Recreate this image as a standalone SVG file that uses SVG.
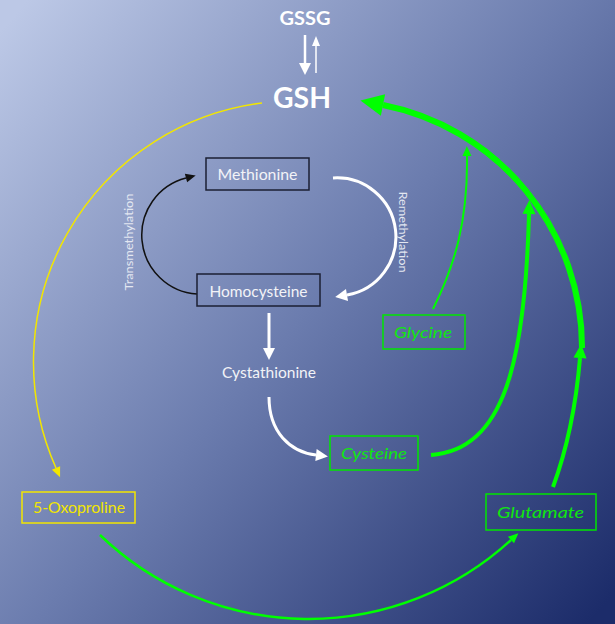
<svg xmlns="http://www.w3.org/2000/svg" width="615" height="624" viewBox="0 0 615 624">
  <defs>
    <linearGradient id="bg" x1="0" y1="0.05" x2="1" y2="0.95">
      <stop offset="0" stop-color="#bcc8e6"/>
      <stop offset="0.5" stop-color="#6b7cae"/>
      <stop offset="1" stop-color="#1c2c6a"/>
    </linearGradient>
    <marker id="hWhite" markerUnits="userSpaceOnUse" markerWidth="14" markerHeight="14" refX="0" refY="6" orient="auto" overflow="visible">
      <path d="M0,0 L12,6 L0,12 Z" fill="#ffffff"/>
    </marker>
    <marker id="hWhiteThin" markerUnits="userSpaceOnUse" markerWidth="12" markerHeight="10" refX="0" refY="4" orient="auto" overflow="visible">
      <path d="M0,0 L10,4 L0,8 Z" fill="#ffffff"/>
    </marker>
    <marker id="hBlack" markerUnits="userSpaceOnUse" markerWidth="12" markerHeight="10" refX="0" refY="4.5" orient="auto" overflow="visible">
      <path d="M0,0 L10,4.5 L0,9 Z" fill="#111111"/>
    </marker>
    <marker id="hYellow" markerUnits="userSpaceOnUse" markerWidth="12" markerHeight="10" refX="0" refY="4.5" orient="auto" overflow="visible">
      <path d="M0,0 L10,4.5 L0,9 Z" fill="#f2e600"/>
    </marker>
    <marker id="hGreenS" markerUnits="userSpaceOnUse" markerWidth="12" markerHeight="10" refX="0" refY="4.5" orient="auto" overflow="visible">
      <path d="M0,0 L10,4.5 L0,9 Z" fill="#00ff00"/>
    </marker>
    <marker id="hGreenM" markerUnits="userSpaceOnUse" markerWidth="16" markerHeight="14" refX="0" refY="6.5" orient="auto" overflow="visible">
      <path d="M0,0 L14,6.5 L0,13 Z" fill="#00ff00"/>
    </marker>
    <marker id="hGreenL" markerUnits="userSpaceOnUse" markerWidth="24" markerHeight="24" refX="0" refY="11" orient="auto" overflow="visible">
      <path d="M0,0 L23,11 L0,22 Z" fill="#00ff00"/>
    </marker>
  </defs>
  <style>
    text { font-family: Lato, "Open Sans", "Liberation Sans", sans-serif; }
    .lbl { fill: #f2f3f7; font-size: 16px; text-anchor: middle; }
    .grn { fill: #10e610; font-size: 16px; font-style: italic; text-anchor: middle; }
    .ylw { fill: #f2e600; font-size: 15px; text-anchor: middle; }
    .rot { fill: #e3e7f1; font-size: 12px; text-anchor: middle; }
    .big { fill: #ffffff; font-weight: bold; text-anchor: middle; }
    .boxD { fill: none; stroke: #1b1f33; stroke-width: 1.5; }
    .boxG { fill: none; stroke: #00e600; stroke-width: 1.5; }
    .boxY { fill: none; stroke: #f2e600; stroke-width: 1.5; }
    .c { fill: none; }
  </style>

  <rect width="615" height="624" fill="url(#bg)"/>

  <!-- connectors -->
  <g id="connectors" class="c">
    <!-- GSSG / GSH exchange -->
    <line x1="305" y1="35" x2="305" y2="63" stroke="#fff" stroke-width="2.5" marker-end="url(#hWhite)"/>
    <line x1="316" y1="73" x2="316" y2="46" stroke="#fff" stroke-width="1.5" marker-end="url(#hWhiteThin)"/>
    <!-- GSH to 5-oxoproline -->
    <path d="M262,103 A261,261 0 0 0 56,468" stroke="#f2e600" stroke-width="1.5" fill="none" marker-end="url(#hYellow)"/>
    <!-- 5-oxoproline to glutamate -->
    <path d="M100,535 A300,300 0 0 0 511,540" stroke="#00ff00" stroke-width="2.5" fill="none" marker-end="url(#hGreenS)"/>
    <!-- glutamate up -->
    <path d="M553,487 Q574,430 580,358" stroke="#00ff00" stroke-width="4" fill="none" marker-end="url(#hGreenM)"/>
    <!-- big arc into GSH -->
    <path d="M582,348 A247,247 0 0 0 383,105" stroke="#00ff00" stroke-width="6" fill="none" marker-end="url(#hGreenL)"/>
    <!-- cysteine to GSH -->
    <path d="M431,455 C505,450 525,360 529,214" stroke="#00ff00" stroke-width="4" fill="none" marker-end="url(#hGreenM)"/>
    <!-- glycine to GSH -->
    <path d="M433,309 C455,265 468,220 467,156" stroke="#00ff00" stroke-width="2" fill="none" marker-end="url(#hGreenS)"/>
    <!-- transmethylation -->
    <path d="M197,294 A59,59 0 0 1 186,178" stroke="#111" stroke-width="1.5" fill="none" marker-end="url(#hBlack)"/>
    <!-- remethylation -->
    <path d="M333,178 A59,59 0 0 1 347,295" stroke="#fff" stroke-width="3" fill="none" marker-end="url(#hWhite)"/>
    <!-- homocysteine to cystathionine -->
    <line x1="269" y1="313" x2="269" y2="348" stroke="#fff" stroke-width="3" marker-end="url(#hWhite)"/>
    <!-- cystathionine to cysteine -->
    <path d="M269,397 C269,432 290,452 316,455" stroke="#fff" stroke-width="3" fill="none" marker-end="url(#hWhite)"/>
  </g>

  <g id="gssg"><text class="big" x="305" y="25" font-size="18" textLength="51" lengthAdjust="spacingAndGlyphs">GSSG</text></g>
  <g id="gsh"><text class="big" x="302" y="108" font-size="28" textLength="58" lengthAdjust="spacingAndGlyphs">GSH</text></g>

  <g id="methionine">
    <rect class="boxD" x="206" y="158" width="103" height="32"/>
    <text class="lbl" x="257.5" y="180" textLength="80" lengthAdjust="spacingAndGlyphs">Methionine</text>
  </g>
  <g id="homocysteine">
    <rect class="boxD" x="197" y="274" width="123" height="32"/>
    <text class="lbl" x="258.5" y="297" textLength="98" lengthAdjust="spacingAndGlyphs">Homocysteine</text>
  </g>
  <g id="cystathionine">
    <text class="lbl" x="269" y="378" font-size="15" textLength="94" lengthAdjust="spacingAndGlyphs">Cystathionine</text>
  </g>
  <g id="cysteine">
    <rect class="boxG" x="330" y="436" width="88" height="34"/>
    <text class="grn" x="374" y="459" textLength="66" lengthAdjust="spacingAndGlyphs">Cysteine</text>
  </g>
  <g id="glycine">
    <rect class="boxG" x="383" y="315" width="82" height="34"/>
    <text class="grn" x="423" y="338" textLength="58" lengthAdjust="spacingAndGlyphs">Glycine</text>
  </g>
  <g id="glutamate">
    <rect class="boxG" x="486" y="494" width="110" height="36"/>
    <text class="grn" x="540.5" y="518" textLength="87" lengthAdjust="spacingAndGlyphs">Glutamate</text>
  </g>
  <g id="oxoproline">
    <rect class="boxY" x="22" y="492" width="113" height="31"/>
    <text class="ylw" x="79" y="513" textLength="92" lengthAdjust="spacingAndGlyphs">5-Oxoproline</text>
  </g>

  <g id="transmethylation-label">
    <text class="rot" transform="translate(133,242) rotate(-90)" textLength="97" lengthAdjust="spacingAndGlyphs">Transmethylation</text>
  </g>
  <g id="remethylation-label">
    <text class="rot" transform="translate(399,232) rotate(90)" textLength="81" lengthAdjust="spacingAndGlyphs">Remethylation</text>
  </g>
</svg>
